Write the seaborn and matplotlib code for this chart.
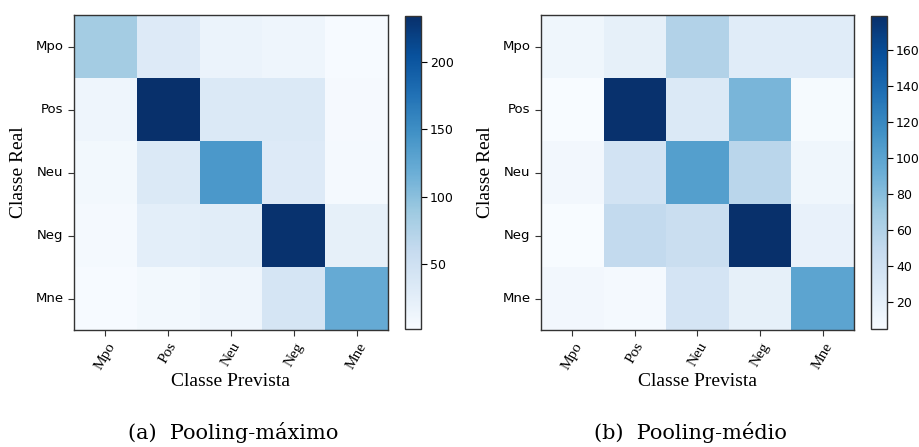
import numpy as np
import pandas as pd
import seaborn as sns
import matplotlib
matplotlib.use("Agg")
import matplotlib.pyplot as plt

classes = ["Mpo", "Pos", "Neu", "Neg", "Mne"]

# Confusion matrix (a) Pooling-máximo: rows = real, cols = predicted
cm_max = [
    [85, 32, 16, 12, 3],
    [12, 234, 35, 35, 5],
    [8, 35, 140, 32, 6],
    [6, 25, 28, 232, 22],
    [3, 8, 12, 42, 122],
]
# Confusion matrix (b) Pooling-médio
cm_avg = [
    [12, 20, 60, 25, 25],
    [5, 178, 30, 86, 7],
    [10, 38, 104, 55, 12],
    [5, 50, 45, 179, 18],
    [10, 8, 36, 20, 100],
]
captions = ["(a)  Pooling-máximo", "(b)  Pooling-médio"]
cbar_ticks = [[50, 100, 150, 200], [20, 40, 60, 80, 100, 120, 140, 160]]
vranges = [(2, 234), (5, 179)]

fig = plt.figure(figsize=(9.2, 4.47), dpi=100)

layouts = [
    ([0.0804, 0.2617, 0.3413, 0.7047], [0.4402, 0.2640, 0.0174, 0.7002], 0.254),
    ([0.5880, 0.2617, 0.3402, 0.7047], [0.9467, 0.2640, 0.0174, 0.7002], 0.750),
]

serif = ["Liberation Serif", "DejaVu Serif"]

for mat, (axpos, cbpos, capx), cap, ticks, (vmin, vmax) in zip(
        [cm_max, cm_avg], layouts, captions, cbar_ticks, vranges):
    df = pd.DataFrame(mat, index=classes, columns=classes)
    ax = fig.add_axes(axpos)
    cax = fig.add_axes(cbpos)
    sns.heatmap(df, ax=ax, cbar_ax=cax, cmap="Blues", vmin=vmin, vmax=vmax,
                square=False, linewidths=0)
    for s in ax.spines.values():
        s.set_visible(True)
        s.set_linewidth(1.0)
        s.set_color("#333333")
    ax.tick_params(axis="both", length=4, width=0.8, color="#333333")
    ax.set_yticklabels(classes, rotation=0, fontsize=9.5, family="DejaVu Sans")
    ax.set_xticklabels(classes, rotation=60, fontsize=11, family=serif,
                       ha="center", va="top")
    ax.set_xlabel("Classe Prevista", fontsize=14, family=serif, labelpad=1)
    ax.set_ylabel("Classe Real", fontsize=14, family=serif, labelpad=6)
    cb = ax.collections[0].colorbar
    cb.outline.set_visible(True)
    cb.outline.set_linewidth(1.0)
    cb.outline.set_edgecolor("#333333")
    cb.set_ticks(ticks)
    cax.tick_params(labelsize=9, length=4, width=0.8, pad=2.5)
    fig.text(capx, 0.033, cap, ha="center", va="center", fontsize=15,
             family=["DejaVu Serif"])

fig.savefig("out.png", dpi=100)
